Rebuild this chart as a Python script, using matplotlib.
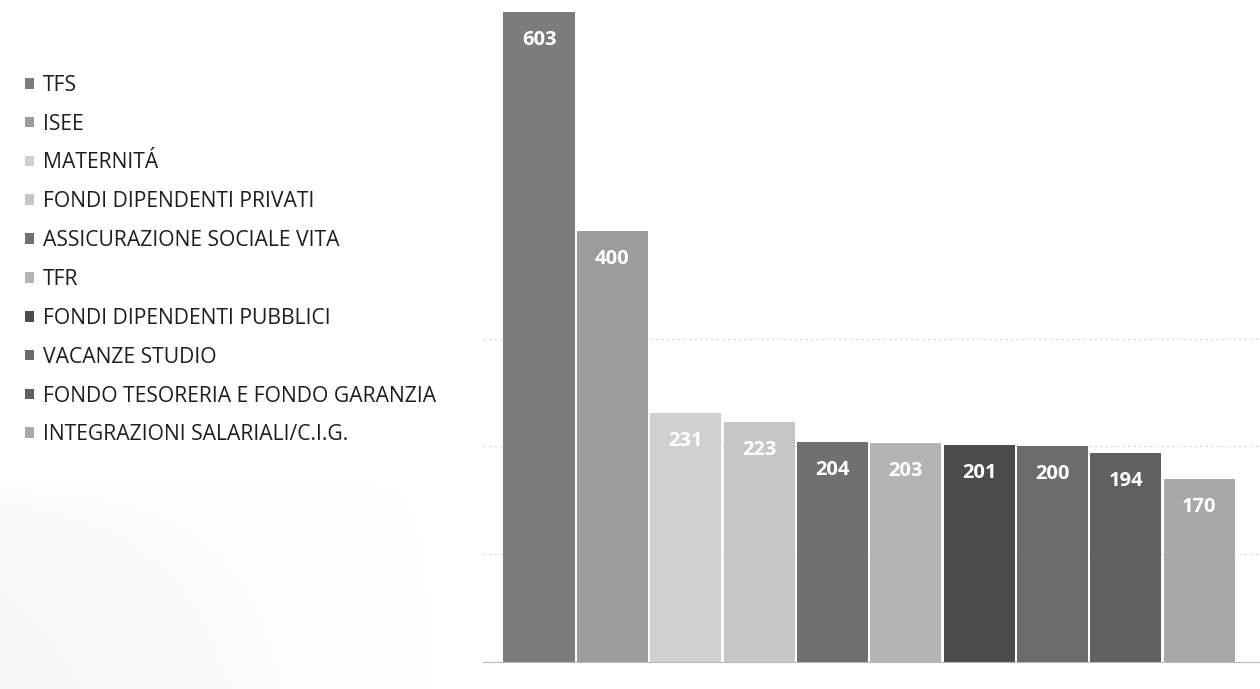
import matplotlib
matplotlib.use('Agg')
import matplotlib.pyplot as plt
from matplotlib.patches import Patch
import numpy as np

# Data
categories = ['TFS', 'ISEE', 'MATERNITÁ', 'FONDI DIPENDENTI PRIVATI',
              'ASSICURAZIONE SOCIALE VITA', 'TFR', 'FONDI DIPENDENTI PUBBLICI',
              'VACANZE STUDIO', 'FONDO TESORERIA E FONDO GARANZIA',
              'INTEGRAZIONI SALARIALI/C.I.G.']
values = [603, 400, 231, 223, 204, 203, 201, 200, 194, 170]
colors = ['#7c7c7c', '#9c9c9c', '#d0d0d0', '#c6c6c6', '#707070',
          '#b4b4b4', '#4c4c4c', '#6c6c6c', '#606060', '#a8a8a8']

plt.rcParams['font.family'] = ['Open Sans', 'DejaVu Sans']

fig = plt.figure(figsize=(12.6, 6.89), dpi=100)

# faint scan shading in the lower-left corner
bg = fig.add_axes([0, 0, 0.36, 0.30], zorder=-1)
gx = np.linspace(1, 0, 200)
gy = np.linspace(0, 1, 60) ** 0.3
bg.imshow(np.outer(gy, gx), cmap='Greys', vmin=0, vmax=14, aspect='auto')
bg.axis('off')

ax = fig.add_axes([0.383, 0.039, 0.617, 0.961])
ax.patch.set_alpha(0)

x = range(len(values))
bars = ax.bar(x, values, width=0.97, color=colors, edgecolor='none', zorder=2)

for b, v in zip(bars, values):
    ax.annotate(str(v), (b.get_x() + b.get_width() / 2, v),
                xytext=(0, -28), textcoords='offset pixels',
                ha='center', va='center', color='white',
                fontsize=14.5, fontweight='bold', zorder=3)

ax.set_xlim(-0.77, 9.83)
ax.set_ylim(0, 614)
ax.set_yticks([100, 200, 300])
ax.grid(axis='y', color='#d4d4d4', linestyle=(0, (2, 3)), linewidth=0.8, zorder=0)
ax.set_xticks([])
ax.tick_params(left=False, labelleft=False)
for s in ['top', 'right', 'left']:
    ax.spines[s].set_visible(False)
ax.spines['bottom'].set_color('#b8b8b8')
ax.spines['bottom'].set_linewidth(0.8)

handles = [Patch(facecolor=c, edgecolor='none') for c in colors]
fig.legend(handles, categories, loc='upper left', bbox_to_anchor=(0.005, 0.919),
           frameon=False, fontsize=15.2, handlelength=0.4, handleheight=0.4,
           handletextpad=0.43, labelspacing=0.845, labelcolor='#1e1e1e')

fig.savefig('out.png', dpi=100)
